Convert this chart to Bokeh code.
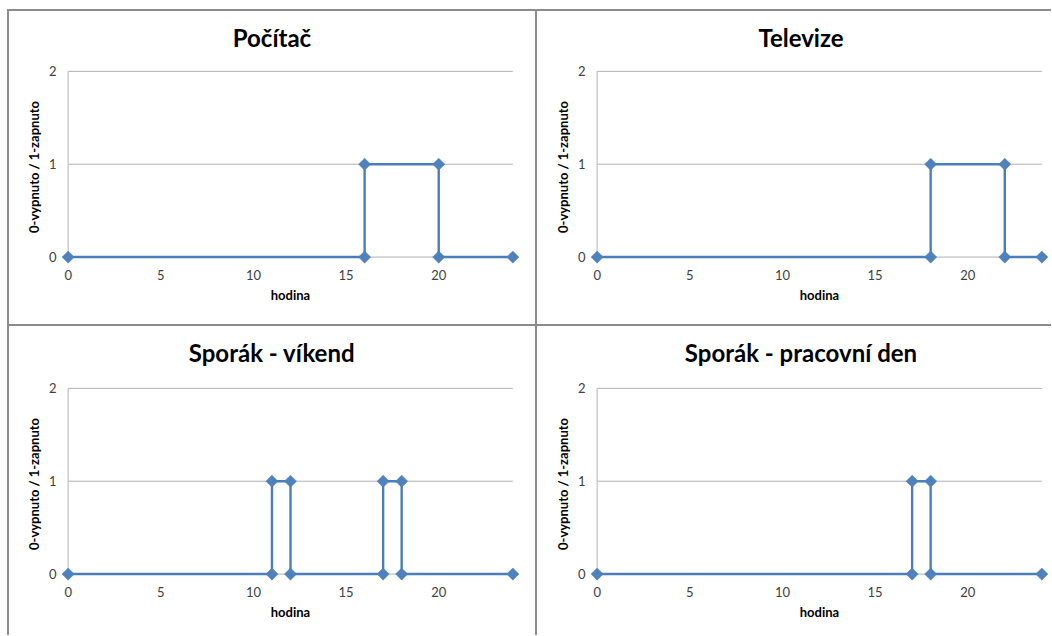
from bokeh.plotting import figure
from bokeh.models import Range1d, Label, FixedTicker, GridBox
from bokeh.embed import file_html
from bokeh.resources import INLINE

# ---- data ----
titles = ["Počítač", "Televize", "Sporák - víkend", "Sporák - pracovní den"]
hours_pc = [0, 16, 16, 20, 20, 24]
state_pc = [0, 0, 1, 1, 0, 0]
hours_tv = [0, 18, 18, 22, 22, 24]
state_tv = [0, 0, 1, 1, 0, 0]
hours_wkd = [0, 11, 11, 12, 12, 17, 17, 18, 18, 24]
state_wkd = [0, 0, 1, 1, 0, 0, 1, 1, 0, 0]
hours_wd = [0, 17, 17, 18, 18, 24]
state_wd = [0, 0, 1, 1, 0, 0]
x_ticks = [0, 5, 10, 15, 20]
y_ticks = [0, 1, 2]
x_min, x_max = 0, 24
x_label = "hodina"
y_label = "0-vypnuto / 1-zapnuto"

LINE = "#4A7EBB"
MARK = "#4F81BD"
GRID = "#b0b0b0"
AXIS = "#c4c4c4"
TXT = "#404040"
FONT = "Lato"


def panel(title, xs, ys, width, height, mb_left, mb_right, mb_top, mb_bottom, title_y):
    p = figure(width=width, height=height, output_backend="svg", toolbar_location=None,
               x_range=Range1d(x_min - 0.36, x_max + 0.36), y_range=Range1d(-0.08, 2.02),
               min_border_left=mb_left, min_border_right=mb_right,
               min_border_top=mb_top, min_border_bottom=mb_bottom,
               styles={"background-color": "white"})
    p.outline_line_color = None
    p.background_fill_color = "white"
    p.border_fill_color = "white"
    p.xgrid.visible = False
    p.ygrid.visible = False
    # gridlines limited to the data span
    for t in y_ticks:
        p.line([x_min, x_max], [t, t], line_color=GRID, line_width=1)
    p.line([x_min, x_min], [y_ticks[0], y_ticks[-1]], line_color=AXIS, line_width=1.3)
    p.line(xs, ys, line_color=LINE, line_width=2.4)
    p.scatter(xs, ys, marker="square", size=8.6, angle=0.7853981634,
              fill_color=MARK, line_color=MARK, line_width=0.5)
    for ax in (p.xaxis[0], p.yaxis[0]):
        ax.axis_line_color = None
        ax.major_tick_line_color = None
        ax.minor_tick_line_color = None
        ax.major_tick_out = 0
        ax.major_tick_in = 0
        ax.minor_tick_out = 0
        ax.minor_tick_in = 0
        ax.major_label_text_font = FONT
        ax.major_label_text_font_size = "13px"
        ax.major_label_text_color = TXT
        ax.axis_label_text_font = FONT
        ax.axis_label_text_font_size = "13px"
        ax.axis_label_text_font_style = "bold"
        ax.axis_label_text_color = "#000000"
        ax.major_label_standoff = 5
        ax.axis_label_standoff = 4
    p.xaxis.ticker = FixedTicker(ticks=x_ticks)
    p.yaxis.ticker = FixedTicker(ticks=y_ticks)
    p.xaxis.axis_label = x_label
    p.yaxis.axis_label = y_label
    p.add_layout(Label(x=11.0, y=title_y, text=title, text_font=FONT, text_font_size="24px",
                       text_font_style="bold", text_align="center", text_baseline="alphabetic",
                       text_color="#000000"), "above")
    return p


p1 = panel(titles[0], hours_pc, state_pc, 526, 313, 52, 16, 58, 60, 2.365)
p2 = panel(titles[1], hours_tv, state_tv, 514, 313, 53, 3, 58, 60, 2.365)
p3 = panel(titles[2], hours_wkd, state_wkd, 526, 309, 52, 16, 60, 54, 2.386)
p4 = panel(titles[3], hours_wd, state_wd, 514, 309, 53, 3, 60, 54, 2.386)

grid = GridBox(children=[(p1, 0, 0), (p2, 0, 1), (p3, 1, 0), (p4, 1, 1)], spacing=2,
               margin=(9, 0, 0, 7),
               styles={"background-color": "#8c8c8c", "padding-left": "2px", "padding-top": "2px"})

open("out.html", "w").write(file_html(grid, INLINE))
